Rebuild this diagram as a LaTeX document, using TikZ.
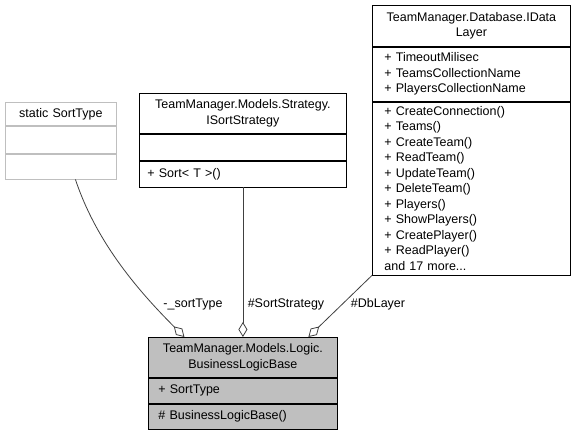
\documentclass[tikz,border=0pt]{standalone}
\usepackage{fontspec}
\setmainfont{Liberation Sans}
\usetikzlibrary{arrows.meta}
\definecolor{umlgray}{RGB}{191,191,191}
\definecolor{edgegray}{RGB}{64,64,64}
\newcommand{\umlfont}{\fontsize{12.5}{15.5}\selectfont}
\tikzset{
  umlpart/.style={draw, fill=white, line width=0.8pt, anchor=north west, inner xsep=8pt, inner ysep=0pt, text width=#1, align=left, font=\umlfont},
  umlhead/.style={umlpart=#1, align=center},
  aggr/.style={draw=edgegray, line width=0.8pt, -{Diamond[open, length=15pt, width=9pt]}},
  rolelabel/.style={font=\umlfont, inner sep=0pt},
}
\begin{document}
\begin{tikzpicture}[x=1pt, y=-1pt]
    \useasboundingbox (0,0) rectangle (574,433);
    % static SortType
    \node[umlhead=95pt, draw=umlgray, minimum height=23pt] (st1) at (5,102) {static SortType};
    \node[umlpart=95pt, draw=umlgray, minimum height=27pt] (st2) at (st1.south west) {};
    \node[umlpart=95pt, draw=umlgray, minimum height=25pt] (st3) at (st2.south west) {};
    % ISortStrategy
    \node[umlhead=191pt, minimum height=40pt] (ss1) at (139,93) {TeamManager.Models.Strategy.\\ISortStrategy};
    \node[umlpart=191pt, minimum height=26pt] (ss2) at (ss1.south west) {};
    \node[umlpart=191pt, minimum height=26pt] (ss3) at (ss2.south west) {+ Sort< T >()};
    % IDataLayer
    \node[umlhead=174pt, inner xsep=12pt, minimum height=41pt] (dl1) at (372,5) {TeamManager.Database.IData\\Layer};
    \node[umlpart=174pt, inner xsep=12pt, minimum height=54pt] (dl2) at (dl1.south west) {+ TimeoutMilisec\\+ TeamsCollectionName\\+ PlayersCollectionName};
    \node[umlpart=174pt, inner xsep=12pt, minimum height=173pt] (dl3) at (dl2.south west) {+ CreateConnection()\\+ Teams()\\+ CreateTeam()\\+ ReadTeam()\\+ UpdateTeam()\\+ DeleteTeam()\\+ Players()\\+ ShowPlayers()\\+ CreatePlayer()\\+ ReadPlayer()\\and 17 more...};
    % BusinessLogicBase
    \node[umlhead=169pt, inner xsep=10pt, fill=umlgray, minimum height=40pt] (blb1) at (148,337) {TeamManager.Models.Logic.\\BusinessLogicBase};
    \node[umlpart=169pt, inner xsep=10pt, fill=umlgray, minimum height=25pt] (blb2) at (blb1.south west) {+ SortType};
    \node[umlpart=169pt, inner xsep=10pt, fill=umlgray, minimum height=25pt] (blb3) at (blb2.south west) {\# BusinessLogicBase()};
    % aggregations
    \draw[aggr] ([xshift=14.5pt]st3.south) .. controls +(20,60) and +(-50,-50) .. ([xshift=-58.5pt]blb1.north);
    \draw[aggr] (ss3.south) -- (blb1.north);
    \draw[aggr] (dl3.south west) -- ([xshift=65.5pt]blb1.north);
    \node[rolelabel] (lst) at (193,304) {-\_sortType};
    \node[rolelabel] (lss) at (286,304) {\#SortStrategy};
    \node[rolelabel] (ldl) at (378,304) {\#DbLayer};
\end{tikzpicture}
\end{document}
